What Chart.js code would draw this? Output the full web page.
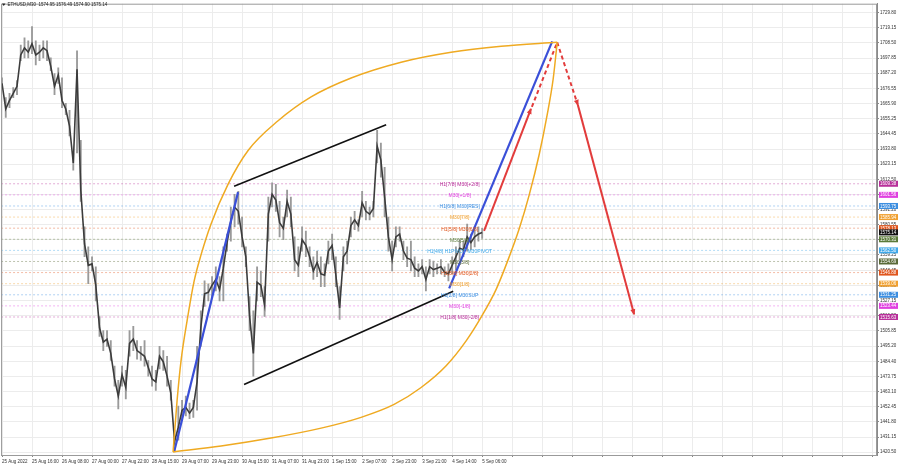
<!DOCTYPE html>
<html>
<head>
<meta charset="utf-8">
<script src="https://cdn.jsdelivr.net/npm/chart.js@4.4.1/dist/chart.umd.min.js"></script>
<style>
  html, body { margin: 0; padding: 0; background: #fff; }
  #wrap { width: 900px; height: 468px; }
</style>
</head>
<body>
<div id="wrap"><canvas id="chart" width="900" height="468"></canvas></div>
<script>
// --- Data ---------------------------------------------------------------

const symbolTitle = "ETHUSD,M30  1574.95 1576.49 1574.90 1575.14";
const lastPrice = 1575.14;

// M30 bars, one sample every 4 bars (high / low / close)
const sampleStep = 4;
const highs = [
  1684, 1670, 1673, 1677, 1682, 1707, 1712, 1710, 1720, 1710,
  1707, 1710, 1710, 1698, 1687, 1691, 1684, 1666, 1661, 1631,
  1703, 1640, 1579, 1565, 1558, 1551, 1516, 1506, 1506, 1499,
  1481, 1471, 1481, 1478, 1506, 1509, 1499, 1495, 1499, 1485,
  1481, 1478, 1495, 1492, 1488, 1471, 1436, 1453, 1457, 1460,
  1455, 1457, 1495, 1520, 1541, 1539, 1544, 1551, 1544, 1565,
  1574, 1593, 1602, 1604, 1586, 1565, 1530, 1520, 1551, 1548,
  1537, 1600, 1610, 1609, 1597, 1586, 1605, 1600, 1572, 1565,
  1579, 1576, 1565, 1558, 1562, 1558, 1553, 1569, 1574, 1558,
  1537, 1565, 1569, 1586, 1590, 1584, 1604, 1597, 1593, 1597,
  1647, 1638, 1621, 1586, 1569, 1579, 1579, 1569, 1565, 1569,
  1558, 1553, 1556, 1551, 1556, 1555, 1553, 1556, 1551, 1553,
  1558, 1565, 1570, 1569, 1581, 1574, 1579, 1579, 1578,
];
const lows = [
  1677, 1656, 1663, 1670, 1672, 1696, 1698, 1698, 1701, 1693,
  1696, 1698, 1696, 1689, 1672, 1680, 1663, 1658, 1643, 1619,
  1631, 1597, 1558, 1539, 1548, 1527, 1502, 1492, 1495, 1485,
  1467, 1451, 1467, 1458, 1488, 1492, 1486, 1485, 1481, 1474,
  1467, 1464, 1479, 1478, 1467, 1457, 1421, 1429, 1443, 1446,
  1444, 1445, 1450, 1495, 1523, 1527, 1530, 1534, 1527, 1527,
  1562, 1569, 1579, 1581, 1565, 1551, 1506, 1474, 1527, 1530,
  1516, 1569, 1593, 1590, 1572, 1570, 1586, 1579, 1548, 1544,
  1562, 1558, 1551, 1542, 1544, 1537, 1537, 1553, 1556, 1537,
  1514, 1548, 1553, 1572, 1577, 1576, 1586, 1584, 1584, 1586,
  1624, 1614, 1586, 1562, 1548, 1565, 1569, 1556, 1551, 1548,
  1544, 1544, 1546, 1534, 1546, 1544, 1546, 1546, 1544, 1541,
  1546, 1549, 1556, 1558, 1562, 1563, 1565, 1569, 1571,
];
const closes = [
  1680, 1662, 1668, 1673, 1678, 1700, 1705, 1702, 1708, 1700,
  1702, 1705, 1703, 1692, 1678, 1686, 1668, 1662, 1650, 1624,
  1690, 1605, 1567, 1552, 1553, 1538, 1508, 1498, 1500, 1490,
  1472, 1460, 1475, 1466, 1497, 1500, 1492, 1490, 1488, 1480,
  1472, 1470, 1488, 1484, 1474, 1462, 1428, 1438, 1450, 1452,
  1448, 1452, 1470, 1508, 1532, 1533, 1538, 1542, 1535, 1550,
  1568, 1583, 1593, 1590, 1572, 1558, 1516, 1490, 1540, 1538,
  1524, 1588, 1602, 1598, 1582, 1578, 1597, 1588, 1556, 1552,
  1570, 1566, 1558, 1548, 1554, 1546, 1545, 1562, 1566, 1545,
  1522, 1558, 1562, 1580, 1584, 1580, 1596, 1590, 1588, 1592,
  1636, 1626, 1600, 1572, 1556, 1572, 1574, 1562, 1557, 1556,
  1550, 1548, 1551, 1542, 1551, 1549, 1550, 1551, 1547, 1546,
  1552, 1558, 1564, 1563, 1572, 1568, 1572, 1574, 1575.14,
];

const barsPerLabel = 32;
const timeLabels = [
  "25 Aug 2022", "25 Aug 16:00", "26 Aug 08:00", "27 Aug 00:00", "27 Aug 22:00",
  "28 Aug 15:00", "29 Aug 07:00", "29 Aug 23:00", "30 Aug 15:00", "31 Aug 07:00",
  "31 Aug 23:00", "1 Sep 15:00", "2 Sep 07:00", "2 Sep 23:00", "3 Sep 21:00",
  "4 Sep 14:00", "5 Sep 06:00",
];

const priceTicks = [
  1420.50, 1431.15, 1441.80, 1452.45, 1463.10, 1473.75, 1484.40, 1495.20,
  1505.85, 1516.50, 1527.15, 1537.80, 1548.45, 1559.25, 1569.90, 1580.55,
  1591.20, 1601.85, 1612.50, 1623.15, 1633.80, 1644.45, 1655.25, 1665.90,
  1676.55, 1687.20, 1697.85, 1708.50, 1719.15, 1729.80,
];

// Murrey levels
const levelPrices = [1609.38, 1601.56, 1593.75, 1585.94, 1578.13, 1570.31, 1562.50,
                     1554.69, 1546.88, 1539.06, 1531.25, 1523.44, 1515.63];
const levelNames = [
  "H1[7/8] M30[+2/8]", "M30[+1/8]", "H1[6/8] M30[RES]", "M30[7/8]", "H1[5/8] M30[6/8]",
  "M30[5/8]", "H1[4/8] H1PIVOT M30PIVOT", "M30[3/8]", "H1[3/8] M30[2/8]", "M30[1/8]",
  "H1[2/8] M30SUP", "M30[-1/8]", "H1[1/8] M30[-2/8]",
];
const levelColors = [
  "#b8309a", "#e040e0", "#3c8ee0", "#f0a030", "#e0561e", "#5a7a38", "#40a8e8",
  "#5a6a38", "#e0561e", "#f0a030", "#3c8ee0", "#e040e0", "#b8309a",
];
const captionBar = 488;

// hand-drawn objects, [bar, price]
const orangeUpper = [[182.4, 1420.6], [186.7, 1456.9], [190.9, 1484.8], [197.3, 1512.7],
  [204.8, 1540.7], [212.3, 1559.5], [222.9, 1581.1], [241.1, 1609.1], [262.4, 1632.8],
  [294.4, 1653.7], [329.6, 1670.5], [372.3, 1683.8], [425.6, 1694.9], [478.9, 1701.9],
  [532.3, 1706.1], [592.0, 1708.9]];
const orangeLower = [[182.4, 1420.6], [233.6, 1424.8], [286.9, 1430.4], [340.3, 1437.4],
  [382.9, 1445.0], [418.1, 1454.1], [446.9, 1466.0], [473.6, 1481.3], [494.9, 1498.8],
  [510.9, 1515.5], [526.9, 1535.1], [539.7, 1556.0], [551.5, 1577.7], [562.1, 1601.4],
  [572.8, 1630.0], [581.3, 1657.9], [587.7, 1683.1], [592.0, 1708.9]];
const blueLeft = [[183.5, 1420.6], [251.7, 1603.5]];
const blueRight = [[476.8, 1535.8], [586.7, 1709.6]];
const channelTop = [[247.5, 1607.7], [409.6, 1650.9]];
const channelBottom = [[258.1, 1468.1], [481.1, 1533.7]];
const redUp = [[514, 1576.3], [564, 1662.1]];
const redUpDashed = [[565, 1663.5], [592, 1708.9]];
const redDownDashed = [[592, 1708.9], [614, 1664.9]];
const redDown = [[614, 1664.9], [674, 1517.6]];

// --- Chart ---------------------------------------------------------------

const X_MIN = -1, X_MAX = 933;
const FONT = '"Liberation Sans", Arial, sans-serif';
Chart.defaults.font.family = FONT;

const pts = (arr) => arr.map(([x, y]) => ({ x, y }));

function drawing(data, color, width, extra = {}) {
  return Object.assign({
    type: "line", data: pts(data), borderColor: color, borderWidth: width,
    pointRadius: 0, fill: false, tension: 0, order: 0,
  }, extra);
}

const datasets = [
  {
    type: "bar",
    data: highs.map((h, i) => ({ x: i * sampleStep, y: [lows[i], h] })),
    backgroundColor: "#9a9a9a",
    barThickness: 1.2,
    grouped: false,
    order: 6,
  },
  {
    type: "line",
    data: closes.map((c, i) => ({ x: i * sampleStep, y: c })),
    borderColor: "#3c3c3c",
    borderWidth: 1.6,
    pointRadius: 0,
    tension: 0,
    order: 5,
  },
  ...levelPrices.map((p, i) => ({
    type: "line",
    data: [{ x: X_MIN, y: p }, { x: X_MAX, y: p }],
    borderColor: levelColors[i] + "66",
    borderWidth: 1,
    borderDash: [2, 2],
    pointRadius: 0,
    order: 10,
  })),
  drawing(orangeUpper, "#efaa22", 1.5, { cubicInterpolationMode: "monotone" }),
  drawing(orangeLower, "#efaa22", 1.5, { cubicInterpolationMode: "monotone" }),
  drawing(blueLeft, "#3a4fd8", 2.2),
  drawing(blueRight, "#3a4fd8", 2.2),
  drawing(channelTop, "#111", 1.6),
  drawing(channelBottom, "#111", 1.6),
  drawing(redUp, "#e23c3c", 2, { arrowHead: true }),
  drawing(redUpDashed, "#e23c3c", 2, { borderDash: [4, 3] }),
  drawing(redDownDashed, "#e23c3c", 2, { borderDash: [4, 3], arrowHead: true }),
  drawing(redDown, "#e23c3c", 2, { arrowHead: true }),
];

const overlayPlugin = {
  id: "overlay",
  afterDatasetsDraw(chart) {
    const { ctx, scales: { x, y } } = chart;
    chart.data.datasets.forEach((ds, i) => {
      if (!ds.arrowHead) return;
      const el = chart.getDatasetMeta(i).data;
      const a = el[el.length - 2], b = el[el.length - 1];
      ctx.save();
      ctx.fillStyle = ds.borderColor;
      ctx.translate(b.x, b.y);
      ctx.rotate(Math.atan2(b.y - a.y, b.x - a.x));
      ctx.beginPath();
      ctx.moveTo(1, 0);
      ctx.lineTo(-5, -2.5);
      ctx.lineTo(-5, 2.5);
      ctx.closePath();
      ctx.fill();
      ctx.restore();
    });

    ctx.save();
    ctx.font = "5px " + FONT;
    ctx.textAlign = "center";
    ctx.textBaseline = "middle";
    levelPrices.forEach((p, i) => {
      ctx.fillStyle = levelColors[i];
      ctx.fillText(levelNames[i], x.getPixelForValue(captionBar), y.getPixelForValue(p) + 1);
    });
    ctx.restore();
  },
  afterDraw(chart) {
    const { ctx, chartArea: ca, scales: { y } } = chart;
    ctx.save();
    ctx.strokeStyle = "#9a9a9a";
    ctx.lineWidth = 1;
    ctx.strokeRect(ca.left + 0.5, ca.top + 0.5, ca.right - ca.left - 1, ca.bottom - ca.top);

    // title
    ctx.fillStyle = "#222";
    ctx.beginPath();
    ctx.moveTo(2, 3.5); ctx.lineTo(5.5, 3.5); ctx.lineTo(3.75, 6);
    ctx.closePath();
    ctx.fill();
    ctx.font = "4.5px " + FONT;
    ctx.textBaseline = "middle";
    ctx.textAlign = "left";
    ctx.fillText(symbolTitle, 7.5, 5);

    // price boxes on the axis
    const boxes = levelPrices.map((p, i) => [p, levelColors[i]]);
    boxes.splice(5, 0, [lastPrice, "#111"]);
    for (const [p, c] of boxes) {
      const py = y.getPixelForValue(p);
      ctx.fillStyle = c;
      ctx.fillRect(ca.right + 2, py - 3, 19, 6);
      ctx.fillStyle = "#fff";
      ctx.fillText(p.toFixed(2), ca.right + 3, py + 0.3);
    }
    ctx.restore();
  },
};

new Chart(document.getElementById("chart"), {
  type: "bar",
  data: { datasets },
  plugins: [overlayPlugin],
  options: {
    responsive: false,
    devicePixelRatio: 1,
    animation: false,
    events: [],
    layout: { padding: 0 },
    plugins: { legend: { display: false }, tooltip: { enabled: false } },
    scales: {
      x: {
        type: "linear",
        min: X_MIN,
        max: X_MAX,
        offset: false,
        grid: { offset: false, color: "#ececec", tickLength: 2, tickColor: "#888" },
        border: { display: true, color: "#8a8a8a" },
        afterBuildTicks: (s) => {
          s.ticks = [];
          for (let v = 0; v <= X_MAX; v += barsPerLabel) s.ticks.push({ value: v });
        },
        afterFit: (s) => { s.height = 13; },
        ticks: {
          autoSkip: false,
          maxRotation: 0,
          align: "start",
          padding: 2,
          color: "#333",
          font: { size: 4.5 },
          callback: (v) => timeLabels[v / barsPerLabel] || "",
        },
      },
      y: {
        type: "linear",
        position: "right",
        min: 1418.5,
        max: 1736.1,
        grid: { color: "#ececec", tickLength: 2, tickColor: "#888" },
        border: { display: true, color: "#8a8a8a" },
        afterBuildTicks: (s) => { s.ticks = priceTicks.map((v) => ({ value: v })); },
        afterFit: (s) => { s.width = 23; },
        ticks: {
          autoSkip: false,
          padding: 1,
          color: "#333",
          font: { size: 4.5 },
          callback: (v) => v.toFixed(2),
        },
      },
    },
  },
});
</script>
</body>
</html>
